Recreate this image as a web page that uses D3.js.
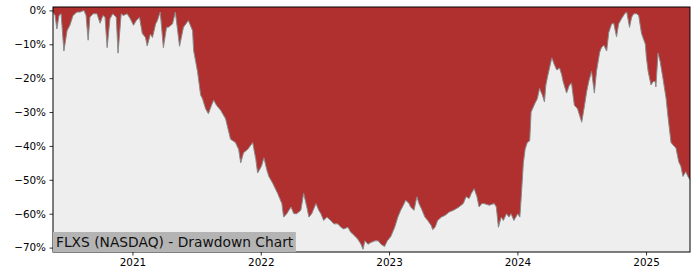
<!DOCTYPE html>
<html>
<head>
<meta charset="utf-8">
<script src="https://cdn.jsdelivr.net/npm/d3@7"></script>
<style>
  body { margin: 0; background: #fff; }
  text { font-family: "DejaVu Sans", sans-serif; }
</style>
</head>
<body>
<svg id="chart" width="700" height="280"></svg>
<script>
// drawdown from previous high, in percent
const dates = [
  "2020-05-20","2020-05-26","2020-05-31","2020-06-06","2020-06-12","2020-06-20","2020-06-29","2020-07-07","2020-07-16","2020-07-27",
  "2020-08-05","2020-08-16","2020-08-22","2020-08-28","2020-09-02","2020-09-11","2020-09-22","2020-10-01","2020-10-09","2020-10-15",
  "2020-10-21","2020-10-29","2020-11-06","2020-11-16","2020-11-21","2020-11-30","2020-12-06","2020-12-17","2020-12-26",
  "2021-01-04","2021-01-12","2021-01-21","2021-01-29","2021-02-07","2021-02-12","2021-02-21","2021-02-27","2021-03-08","2021-03-13",
  "2021-03-21","2021-03-30","2021-04-08","2021-04-13","2021-04-25","2021-05-03","2021-05-15","2021-05-26","2021-06-09","2021-06-21",
  "2021-06-24","2021-07-05","2021-07-14","2021-07-19","2021-07-28","2021-08-05","2021-08-14","2021-08-20","2021-08-28","2021-09-09",
  "2021-09-23","2021-10-07","2021-10-21","2021-10-30","2021-11-05","2021-11-13","2021-11-25","2021-12-09","2021-12-18","2021-12-23",
  "2022-01-03","2022-01-10","2022-01-18","2022-01-24","2022-02-04","2022-02-18","2022-03-02","2022-03-07","2022-03-16","2022-03-28",
  "2022-04-05","2022-04-13","2022-04-25","2022-05-03","2022-05-12","2022-05-18","2022-05-26","2022-06-07","2022-06-15","2022-06-21",
  "2022-06-29","2022-07-08","2022-07-19","2022-07-28","2022-08-08","2022-08-17","2022-08-25","2022-09-06","2022-09-14","2022-09-20",
  "2022-09-29","2022-10-04","2022-10-13","2022-10-19","2022-10-24","2022-11-02","2022-11-10","2022-11-22","2022-12-01","2022-12-09",
  "2022-12-19","2022-12-27",
  "2023-01-06","2023-01-17","2023-01-26","2023-02-03","2023-02-13","2023-02-17","2023-02-27","2023-03-03","2023-03-13","2023-03-21",
  "2023-03-27","2023-04-03","2023-04-13","2023-04-21","2023-05-01","2023-05-05","2023-05-12","2023-05-19","2023-05-30","2023-06-09",
  "2023-06-21","2023-07-03","2023-07-11","2023-07-19","2023-07-31","2023-08-08","2023-08-17","2023-08-23","2023-08-31","2023-09-08",
  "2023-09-14","2023-09-22","2023-09-28","2023-10-13","2023-10-27","2023-11-02","2023-11-08","2023-11-16","2023-11-22","2023-12-01",
  "2023-12-08","2023-12-14","2023-12-22",
  "2024-01-02","2024-01-08","2024-01-12","2024-01-18","2024-01-23","2024-01-29","2024-02-05","2024-02-09","2024-02-20","2024-02-27",
  "2024-03-04","2024-03-12","2024-03-18","2024-03-22","2024-03-28","2024-04-08","2024-04-15","2024-04-22","2024-04-30","2024-05-06",
  "2024-05-10","2024-05-20","2024-05-28","2024-06-03","2024-06-11","2024-06-20","2024-06-26","2024-07-02","2024-07-10","2024-07-16",
  "2024-07-22","2024-07-30","2024-08-07","2024-08-13","2024-08-22","2024-08-27","2024-09-03","2024-09-11","2024-09-17","2024-09-25",
  "2024-10-01","2024-10-09","2024-10-15","2024-10-23","2024-11-01","2024-11-07","2024-11-15","2024-11-21","2024-11-27","2024-12-05",
  "2024-12-11","2024-12-19","2024-12-30",
  "2025-01-02","2025-01-07","2025-01-15","2025-01-21","2025-01-27","2025-01-29","2025-02-04","2025-02-10","2025-02-18","2025-02-27",
  "2025-03-04","2025-03-13","2025-03-21","2025-03-27","2025-04-04","2025-04-10","2025-04-16","2025-04-24","2025-04-30","2025-05-06"
];
const drawdown = [
  -0.5,-1.5,-5.5,-1.5,-1,-12,-6,-4.4,-1.5,-0.5,
  -0.5,0,-1.5,-8.8,-2,-1,-1,-3.8,-1.5,-2,
  -11,-2.5,-1,-2,-12.6,-1,-1.5,-1,-2.5,
  -4.4,-3,-2,-6.8,-8,-10.5,-7,-8,-4,-3,
  -0.5,-11,-5,-5,-4,-0.5,-10.6,-5,-3,-6,
  -11.8,-18,-25,-26,-29,-30.5,-28,-26.5,-28,-29.5,
  -32,-38,-39,-41,-45,-42,-41,-39,-44,-48,
  -46,-43.5,-47,-49,-51,-54,-57,-61,-60,-58,
  -60,-60,-59,-54,-58,-61,-60,-57,-59,-60,
  -62,-61,-62,-63,-63,-64,-64.5,-64,-65.5,-66,
  -67,-67.5,-69,-70.5,-68,-69,-68.5,-68,-68,-69,
  -69.7,-68,
  -66.7,-64,-61,-59,-57,-56,-57,-58,-59,-55,
  -57,-58.5,-61,-62,-63.5,-64.7,-64,-62,-61,-60.5,
  -59.5,-59,-58.5,-58,-57,-55,-55.5,-54,-52.6,-55,
  -58,-57,-57,-57.5,-57,-58,-64,-61,-62,-60,
  -61,-60,-62,
  -60,-61,-55,-45,-41,-39,-38.5,-30,-27.4,-26,
  -23,-25,-27,-22,-19,-14,-16,-17.6,-17,-19,
  -21,-24.4,-22,-21.5,-28,-29,-31,-33,-28,-24,
  -21,-18,-24.4,-18,-12.4,-11,-10.3,-12,-6.5,-4,
  -3.8,-7.8,-4,-2.5,-1,-0.5,-5,-2,-1,-1,
  -1.5,-6.8,-10,
  -14,-18,-22,-21,-21,-22.6,-12.6,-15,-20,-26,
  -31,-39,-40,-40.6,-44.7,-46,-49,-47.6,-49,-50
];
const yTicks = [0, -10, -20, -30, -40, -50, -60, -70];
const xTickYears = [2021, 2022, 2023, 2024, 2025];
const title = "FLXS (NASDAQ) - Drawdown Chart";

const parse = d3.timeParse("%Y-%m-%d");
const data = dates.map((d, i) => ({ date: parse(d), dd: drawdown[i] }));

const margin = { top: 7, right: 10, bottom: 28, left: 53 };
const width = 700, height = 280;
const innerW = width - margin.left - margin.right;
const innerH = height - margin.top - margin.bottom;

const svg = d3.select("#chart");
const g = svg.append("g").attr("transform", `translate(${margin.left},${margin.top})`);

const x = d3.scaleTime()
  .domain(d3.extent(data, d => d.date))
  .range([0, innerW]);
const y = d3.scaleLinear()
  .domain([-71.3, 1.0])
  .range([innerH, 0]);

g.append("rect")
  .attr("width", innerW)
  .attr("height", innerH)
  .style("fill", "#eeeeee");

// red area from the drawdown line up to the top of the plot
const area = d3.area()
  .x(d => x(d.date))
  .y0(0)
  .y1(d => y(d.dd));
g.append("path")
  .datum(data)
  .attr("d", area)
  .style("fill", "#b03030");

const line = d3.line()
  .x(d => x(d.date))
  .y(d => y(d.dd));
g.append("path")
  .datum(data)
  .attr("d", line)
  .style("fill", "none")
  .style("stroke", "#8a8a8a")
  .style("stroke-width", 1);

// axes
const yAxis = d3.axisLeft(y)
  .tickValues(yTicks)
  .tickSize(3.5)
  .tickPadding(3.5)
  .tickFormat(d => (d < 0 ? "\u2212" : "") + Math.abs(d) + "%");
const xAxis = d3.axisBottom(x)
  .tickValues(xTickYears.map(yr => new Date(yr, 0, 1)))
  .tickSize(3.5)
  .tickPadding(3.5)
  .tickFormat(d3.timeFormat("%Y"));

const ya = g.append("g").call(yAxis);
const xa = g.append("g").attr("transform", `translate(0,${innerH})`).call(xAxis);
[ya, xa].forEach(a => {
  a.select(".domain").remove();
  a.selectAll(".tick line").style("stroke", "#000").style("stroke-width", 0.8);
  a.selectAll(".tick text").style("font-size", "10.4px").style("fill", "#000");
});

g.append("rect")
  .attr("width", innerW)
  .attr("height", innerH)
  .style("fill", "none")
  .style("stroke", "#000")
  .style("stroke-width", 1);

// label box in the lower-left corner
const label = g.append("g");
const txt = label.append("text")
  .attr("x", 3)
  .attr("y", innerH - 5)
  .style("font-size", "13.8px")
  .style("fill", "#111")
  .text(title);
const bb = txt.node().getBBox();
label.insert("rect", "text")
  .attr("x", 0)
  .attr("y", innerH - 20)
  .attr("width", bb.width + 5)
  .attr("height", 20)
  .style("fill", "#b4b4b4");
</script>
</body>
</html>
